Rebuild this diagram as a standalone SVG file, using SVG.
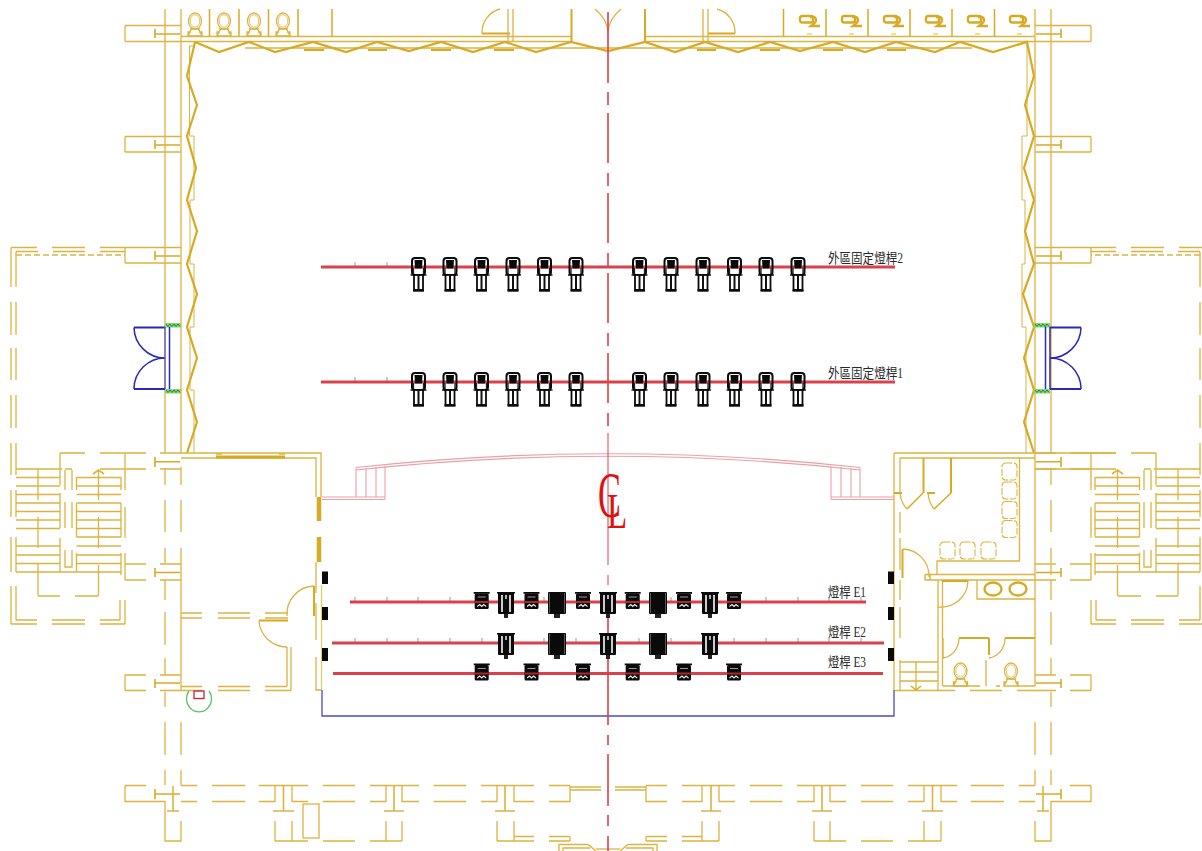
<svg xmlns="http://www.w3.org/2000/svg" width="1202" height="851" viewBox="0 0 1202 851">
<style>
.y{fill:none;stroke:#dcb341;stroke-width:1.300}
.t{fill:none;stroke:#d8aa24;stroke-width:2}
.z{fill:none;stroke:#d8a922;stroke-width:2.200;stroke-linejoin:miter}
.p{fill:none;stroke:#e9a0a6;stroke-width:1.100}
.b{fill:none;stroke:#2a2ab8;stroke-width:1.500}
.bar{fill:none;stroke:#d9424a;stroke-width:2.800}
.tick{fill:none;stroke:#999;stroke-width:1}
.cl{fill:none;stroke:#d9424a;stroke-width:1.600}
.k{fill:#0a0a0a}
.lab{font-family:"Liberation Serif","Noto Sans CJK TC",serif;font-size:14px;fill:#2a2a2a}
.cltext{font-family:"Liberation Serif",serif;fill:#e01010}
</style>
<defs>
<g id="wash">
<rect x="-6.500" y="-9" width="13" height="17" rx="3" fill="none" stroke="#0a0a0a" stroke-width="2"/>
<path d="M-4-7H4L3.500 1.500H-3.500Z" class="k"/>
<path d="M-5 1V7M5 1V7" stroke="#222" stroke-width="1.300"/>
<path d="M-8 8H8" stroke="#0a0a0a" stroke-width="1.400"/>
<rect x="-4.500" y="8" width="9" height="15" fill="#fff" stroke="#0a0a0a" stroke-width="1.800"/>
<path d="M0 8V23" stroke="#111" stroke-width="2"/>
<path d="M-5.500 23.500H5.500" stroke="#0a0a0a" stroke-width="2.400"/>
</g>
<g id="scan">
<rect x="-7" y="-8.500" width="14" height="15.500" rx="1.500" class="k"/>
<rect x="-8" y="-10" width="16" height="1.800" class="k"/>
<rect x="-7" y="-1" width="14" height="2" fill="#a52a30"/>
<path d="M-4-5H4" stroke="#999" stroke-width="1"/>
<path d="M-4.500 4.500L-2 2.500L0 4.500L2 2.500L4.500 4.500" fill="none" stroke="#eee" stroke-width="1.100"/>
</g>
<g id="prof">
<rect x="-8" y="-10" width="16" height="22" rx="1" class="k"/>
<rect x="-9" y="-10" width="18" height="1.500" class="k"/>
<path d="M-4-7V10M4-7V10" stroke="#ccc" stroke-width="2"/>
<path d="M0-7V-3" stroke="#eee" stroke-width="1.500"/>
<rect x="-2" y="12" width="4" height="4" fill="#222"/>
</g>
<g id="big">
<rect x="-9" y="-10" width="18" height="22" rx="1" class="k"/>
<path d="M-7.500-9V11M7.500-9V11" stroke="#777" stroke-width=".7"/>
<rect x="-3" y="12" width="6" height="4" fill="#222"/>
</g>
<g id="wc">
<ellipse cx="0" cy="-8" rx="6.500" ry="8" class="y" stroke-width="1.300"/>
<ellipse cx="0" cy="-8" rx="4.800" ry="6.200" class="y" style="stroke-width:.8"/>
<path d="M-5 0H5M-3.500 0L-7 7H7L3.500 0M-7 7V3H-4M7 7V3H4" class="y"/>
</g>
<g id="uri">
<rect x="0" y="0" width="13" height="6.500" rx="2" class="t" style="stroke-width:2.400"/>
<path d="M10 1H13Q16 1 16 4.500Q16 6 11 10H20" class="t" style="stroke-width:2.400"/>
<path d="M7 18H12" stroke="#eed766" stroke-width="1.500"/>
</g>
<rect id="vs" x="0" y="0" width="15" height="17" rx="3.500" fill="none" stroke="#dcb341" stroke-width="1.100" stroke-dasharray="7 1.500"/>
<g id="spring"><rect x="0" y="0" width="16" height="4.500" fill="#7ddc7a"/><path d="M1 1L3 3.500L5 1L7 3.500L9 1L11 3.500L13 1L15 3.500" fill="none" stroke="#3a6a2a" stroke-width=".9"/></g>
<g id="half">
<path class="y" d="M165 9V453M181 9V453"/>
<path class="y" d="M125 25.500H181M125 41.500H181M125 25.500V41.500M125 136.500H181M125 152H181M125 136.500V152M125 247.500H181M125 263H181M125 247.500V263"/>
<path class="t" style="stroke-width:1.600" d="M155 29V38M155 34H180M155 140V149M155 145H180M155 251V260M155 256H180M155 457V467M155 461.700H180M155 568V577M155 572.500H180M155 679V688M155 683H180M155 789V799M155 794H180"/>
<path class="y" d="M11 247.500V287M16 252V287M11 302V335M16 302V335M11 348V380M16 348V380M11 395V428M16 395V428M11 443V475M16 443V475"/>
<path class="y" d="M11 247.500H37M52 247.500H85M100 247.500H125M16 251.500H38M53 251.500H85M100 251.500H125"/>
<path class="y" stroke-dasharray="6 3" d="M16 255H125"/>
<path class="y" d="M60 453H85M100 453H146M160 453H181M16 469H62M65 469H72M100 469H146M160 469H181M125 453V490M60 453V485M60 493V528M60 538V572"/>
<path class="y" d="M16 477.500H60M16 486H60M16 494.500H60M16 503H60M16 511.500H60M16 520H60M16 528.500H60M16 546H60M16 555H60M16 563.500H60M16 572H60"/>
<path class="y" d="M76.500 477.500H121M76.500 486H121M76.500 494.500H121M76.500 503H121M76.500 511.500H121M76.500 520H121M76.500 528.500H121M76.500 537H121M76.500 546H121M76.500 555H121M76.500 563.500H121M76.500 572H121"/>
<path class="y" d="M38 469V500M38 517V548M38 564V596M98.500 470V500M98.500 517V548M98.500 565V596M65 470V490M72 470V490M65 502V528M72 502V528M65 550V567H72V550M76.500 477V490M76.500 503V537M76.500 553V572M60 572H76.500M121 477V490M121 503V537M121 553V575M125 507V538M125 553V564M11 490V517M16 490V517M11 537V572M16 537V572"/>
<path class="y" d="M93 474L98.500 470L104 474" style="stroke-width:1.800"/>
<path class="y" d="M125 564H146M125 580H146M160 564H181M160 580H181M125 564V580M38 596H60M75 596H98M11 586V624M16 586V620M120 600V620M125 600V624M16 620H37M52 620H85M100 620H120M11 624H37M52 624H85M100 624H125"/>
<path class="y" d="M125 675H146M125 690.500H146M160 675H181M160 690.500H181M125 675V690.500"/>
<path class="y" d="M165 468V485M165 500V532M165 548V563M165 580V600M165 612V645M165 658V675M165 692V707M165 722V755M165 770V785"/>
<path class="y" d="M125 785.500H146M125 785.500V801.500H165V841H181V821M181 722V755M181 770V785M181 785.500H197M212 785.500H245M259 785.500H308M323 785.500H355M370 785.500H419M433.500 785.500H466M481 785.500H534M549 785.500H570"/>
<path class="y" d="M181 801.500H197M212 801.500H245M259 801.500H275M292 801.500H308M323 801.500H355M370 801.500H386M402 801.500H419M433.500 801.500H466M481 801.500H497M514 801.500H534M549 801.500H570V786"/>
<path class="y" d="M570 787H601M570 790H601"/>
<path class="y" d="M275 786V802M292 786V802M386 786V802M402 786V802M497 786V802M514 786V802"/>
<path class="y" style="stroke-width:1.600" d="M173 786V811M167 811H179M283.500 786V811M273 811H294M394 786V811M384 811H404M505 786V811M495 811H515"/>
<path class="y" d="M275 821V841M292 821V841M275 841H308M323 841H355M370 841H402M386 821V841M402 821V841M497 821V841M514 821V841M497 841H534M514 836.500H534M549 836.500H570M549 841H570M570 836.500V841M559 851V844.500H588L596 851M563 851V848H590"/>
<path class="y" d="M596 849H608"/>
</g>
</defs>

<rect width="1202" height="851" fill="#fff"/>

<g id="building-shell">
<use href="#half"/>
<use href="#half" transform="matrix(-1 0 0 1 1216 0)"/>
<path class="y" d="M181 36.500H571M645 36.500H1035M181 41.500H571M645 41.500H1035M245 48H972M571 48H645"/>
<path class="y" style="stroke-width:1" d="M189.500 46V136H194V200H190V264H194V327H190V390H194V453M189.500 46H195"/>
<path class="y" style="stroke-width:1" d="M1027 42V136H1022V200H1025V264H1022V327H1026V453"/>
<path class="z" d="M195 42L187 76L197 105L187 136L196 168L187 200L197 231L187 264L197 294L187 327L197 358L187 390L197 422L187 453M195 42L219 52L249 42L275 52L313 42L346 52L377 42L409 51L441 42L473 52L505 42L536 52L571 42L608 51L645 42L675 52L705 42L738 52L770 42L800 51L833 42L865 52L896 42L935 52L960 42L993 52L1027 42L1034 76L1025 105L1034 136L1024 168L1034 200L1025 231L1034 264L1023 294L1034 327L1024 358L1034 390L1024 422L1034 453"/>
<path class="t" style="stroke-width:1.800" d="M304 50H324M368 50H387M431 50H451M494 50H514M697 50H716M760 50H780M823 50H843M887 50H906"/>
<path class="t" style="stroke-width:1.500" d="M209.500 9V36M239 9V36M268.500 9V36M298 9V36M332 9V36M826 9V36M868 9V36M910 9V36M952 9V36M994.500 9V36M783.500 9V36"/>
<path class="t" d="M571.500 9V42M645 9V42M482 33.500H510M708 33.500H735"/>
<path class="y" d="M508 9V41M513 9V41M703 9V41M708 9V41M482 33.500A24 24 0 0 1 500 9M735 33.500A24 24 0 0 0 717 9M595 9Q608 20 608 33M621 9Q608 20 608 33"/>
</g>

<g id="toilets">
<use href="#wc" x="195" y="29"/><use href="#wc" x="224" y="29"/><use href="#wc" x="254" y="29"/><use href="#wc" x="283" y="29"/>
<use href="#uri" x="800" y="16"/><use href="#uri" x="842" y="16"/><use href="#uri" x="884" y="16"/><use href="#uri" x="926" y="16"/><use href="#uri" x="968" y="16"/><use href="#uri" x="1010" y="16"/>
</g>

<g id="doors">
<use href="#spring" x="165" y="323"/><use href="#spring" x="165" y="389"/><use href="#spring" x="1034" y="323"/><use href="#spring" x="1034" y="389"/>
<path class="b" style="stroke-width:2" d="M165 327.500H134M165 389H134"/>
<path class="b" d="M134 327.500A31 31 0 0 0 165 358A31 31 0 0 0 134 389M169.500 327V389"/>
<path stroke="#5555cc" stroke-width="1.300" d="M165 327V389"/>
<path class="b" style="stroke-width:2" d="M1050 327.500H1081M1050 389H1081"/>
<path class="b" d="M1081 327.500A31 31 0 0 1 1050 358A31 31 0 0 1 1081 389M1045.500 327V389M1050 327V389"/>
</g>

<g id="left-room">
<path class="y" d="M181 453H321V497M181 458H316V497M181 467V485M181 500V532M181 548V690"/>
<path class="t" style="stroke-width:3" d="M216 457H285"/>
<path class="y" d="M216 454H222M279 454H285"/>
<path class="t" style="stroke-width:4.500" d="M319 497V521M319 537V562"/>
<path class="y" d="M316 562V593M316 603V640M316 657V690H322"/>
<path d="M321.500 585V690" stroke="#ddd066" stroke-width="1.300" fill="none"/>
<path class="y" d="M181 613H202M218 613H250M265 613H288M181 618H202M218 618H250M265 618H288"/>
<path class="t" d="M314 586V616M259 620.500H288"/>
<path class="y" d="M314 586A28 28 0 0 0 287 616M259 621A28 28 0 0 0 287 647M287 647V686.500M291 647V690.500"/>
<path class="y" d="M181 686.500H202M218 686.500H250M265 686.500H287M181 690.500H202M218 690.500H250M265 690.500H291"/>
<rect x="303" y="804" width="16" height="34" class="y"/>
<path fill="none" stroke="#5cc46a" stroke-width="1.300" d="M189 691A12.500 13 0 1 0 209 691"/>
<rect x="194" y="691" width="10" height="7.500" fill="none" stroke="#d02030" stroke-width="1.300"/>
</g>

<g id="right-rooms">
<path class="y" d="M894 453V690M894 453H1035M900 458H1035M900 458V493M1035 453V686"/>
<path class="t" d="M923.500 458V493M951 458V493M894 493H902M927 493H935"/>
<path class="t" style="stroke-width:1.500" d="M923 493L907 509M951 493L934 509"/>
<path class="y" d="M900 493Q901 503 907 509M928 493Q929 503 934 509"/>
<use href="#vs" x="1002" y="463"/><use href="#vs" x="1002" y="482"/><use href="#vs" x="1002" y="501.500"/><use href="#vs" x="1002" y="520.500"/>
<use href="#vs" x="940" y="542"/><use href="#vs" x="960" y="542"/><use href="#vs" x="981" y="542"/>
<path class="y" d="M1019.500 458V561H937V574"/>
<path class="y" style="stroke-width:1.500" d="M925 574.500H1035M925 580H1035M925 574.500V580M930 574.500V580"/>
<path class="t" d="M902.500 549V578"/>
<path class="y" d="M903 549A27 27 0 0 1 929 577"/>
<path class="y" d="M900 512V533M900 538V570M900 580V600M900 607V638M900 660V690M1051 565V575"/>
<path class="y" d="M977 580V599H1035"/>
<ellipse cx="993" cy="589" rx="8.500" ry="6.500" class="t" style="stroke-width:2.400"/>
<ellipse cx="1018" cy="589" rx="8.500" ry="6.500" class="t" style="stroke-width:2.400"/>
<path class="y" d="M938 580V690M942.500 580V686"/>
<path class="t" d="M942 581H968"/>
<path class="y" d="M968 581A27 27 0 0 1 938 607"/>
<path class="t" d="M959 638H989M1005 638H1035M989 638V655"/>
<path class="y" d="M943 638V658M943 658A18 20 0 0 0 959 638M989 658A18 20 0 0 0 1005 638M986 660V686"/>
<use href="#wc" x="960.500" y="679"/><use href="#wc" x="1011" y="679"/>
<path class="y" d="M943 686H980M996 686H1000M1018 686H1035M895 690.500H955M970 690.500H1002M1017 690.500H1035"/>
<path class="y" d="M900 662H938M900 672H938M900 681H938M916 662V690"/>
<path class="t" style="stroke-width:1.500" d="M911 686L916 690L921 686"/>
<path class="y" d="M1035 469H1091M1035 453H1116"/>
</g>

<g id="stage-arch">
<path class="p" d="M356 467.500Q608 440 860 467.500M356 470Q608 442.500 860 470"/>
<path class="p" d="M356 468V497M366 468V497M376 467V497M385 466V499M831 466V499M841 467V497M851 468V497M860 468V497M322 497H385M322 499.500H385M831 497H894M831 499.500H894"/>
<path stroke="#4a4ac8" stroke-width="1.300" fill="none" d="M322 690V716H894V690"/>
<rect x="322" y="571.500" width="6" height="12.500" class="k"/><rect x="322" y="607" width="6" height="13" class="k"/><rect x="322" y="648" width="6" height="13" class="k"/>
<rect x="888" y="571.500" width="6" height="12.500" class="k"/><rect x="888" y="607" width="6" height="13" class="k"/><rect x="888" y="648" width="6" height="13" class="k"/>
</g>

<g id="centerline">
<path class="cl" d="M608 12V83M608 92V105M608 113V163M608 173V186M608 193V243M608 253V266M608 273V323M608 333V346M608 353V403M608 413V426M608 592V725M608 735V745M608 754V806M608 815V826M608 836V851"/>
<path class="cl" style="stroke-width:1" d="M608 433V565M608 575V585"/>
<text class="cltext" font-size="66" transform="translate(598 517) scale(.52 1)">C</text>
<text class="cltext" font-size="50" transform="translate(607 528) scale(.66 1)">L</text>
</g>

<g id="light-bars">
<path class="tick" d="M355 262V267M387 262V267M355 377V382M387 377V382M355 597V602M387 597V602M418 597V602M450 597V602M544 597V602M671 597V602M766 597V602M798 597V602M829 597V602M861 597V602M355 638V643M387 638V643M418 638V643M450 638V643M482 638V643M544 638V643M576 638V643M639 638V643M671 638V643M734 638V643M766 638V643M798 638V643M829 638V643M861 638V643"/>
<path class="bar" d="M321 267H895M321 382H895M350 602H866M332 643H884M333 673.500H883"/>
</g>

<g id="fixtures-row2">
<use href="#wash" x="418.500" y="267"/><use href="#wash" x="450" y="267"/><use href="#wash" x="481.500" y="267"/><use href="#wash" x="513" y="267"/><use href="#wash" x="544.500" y="267"/><use href="#wash" x="576" y="267"/><use href="#wash" x="639.500" y="267"/><use href="#wash" x="671" y="267"/><use href="#wash" x="703" y="267"/><use href="#wash" x="734.500" y="267"/><use href="#wash" x="766" y="267"/><use href="#wash" x="798" y="267"/>
</g>
<g id="fixtures-row1">
<use href="#wash" x="418.500" y="382"/><use href="#wash" x="450" y="382"/><use href="#wash" x="481.500" y="382"/><use href="#wash" x="513" y="382"/><use href="#wash" x="544.500" y="382"/><use href="#wash" x="576" y="382"/><use href="#wash" x="639.500" y="382"/><use href="#wash" x="671" y="382"/><use href="#wash" x="703" y="382"/><use href="#wash" x="734.500" y="382"/><use href="#wash" x="766" y="382"/><use href="#wash" x="798" y="382"/>
</g>
<g id="fixtures-e1">
<use href="#scan" x="481.700" y="602"/><use href="#prof" x="506" y="602"/><use href="#scan" x="531.500" y="602"/><use href="#big" x="557" y="602"/><use href="#scan" x="583" y="602"/><use href="#prof" x="608" y="602"/><use href="#scan" x="632.700" y="602"/><use href="#big" x="658" y="602"/><use href="#scan" x="684" y="602"/><use href="#prof" x="710" y="602"/><use href="#scan" x="734" y="602"/>
</g>
<g id="fixtures-e2">
<use href="#prof" x="506" y="643"/><use href="#big" x="557" y="643"/><use href="#prof" x="608" y="643"/><use href="#big" x="658" y="643"/><use href="#prof" x="710" y="643"/>
</g>
<g id="fixtures-e3">
<use href="#scan" x="481.700" y="673.500"/><use href="#scan" x="531.500" y="673.500"/><use href="#scan" x="583" y="673.500"/><use href="#scan" x="632.700" y="673.500"/><use href="#scan" x="684" y="673.500"/><use href="#scan" x="734" y="673.500"/>
</g>

<g id="labels">
<text class="lab" x="828" y="263" textLength="75" lengthAdjust="spacingAndGlyphs">外區固定燈桿2</text>
<text class="lab" x="828" y="378" textLength="75" lengthAdjust="spacingAndGlyphs">外區固定燈桿1</text>
<text class="lab" x="828" y="597" textLength="38" lengthAdjust="spacingAndGlyphs">燈桿 E1</text>
<text class="lab" x="828" y="637" textLength="38" lengthAdjust="spacingAndGlyphs">燈桿 E2</text>
<text class="lab" x="828" y="667" textLength="38" lengthAdjust="spacingAndGlyphs">燈桿 E3</text>
</g>
</svg>
